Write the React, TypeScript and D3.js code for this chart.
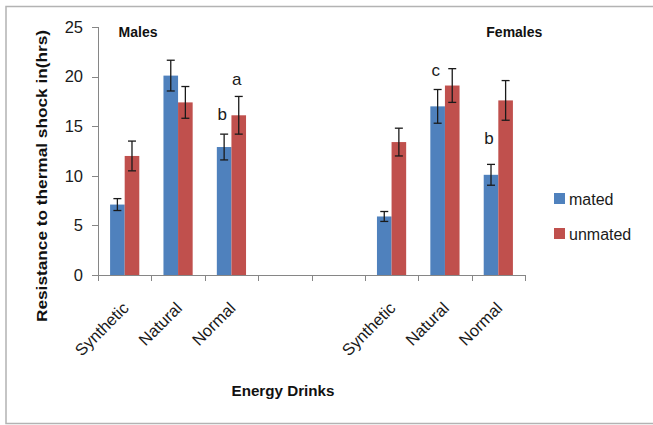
import React from "react";
import * as d3 from "d3";

const categories = ["Synthetic", "Natural", "Normal", "", "", "Synthetic", "Natural", "Normal"];
const mated: (number | null)[] = [7.1, 20.1, 12.9, null, null, 5.9, 17.0, 10.1];
const unmated: (number | null)[] = [12.0, 17.4, 16.1, null, null, 13.4, 19.1, 17.6];
const matedErr: (number | null)[] = [0.6, 1.55, 1.3, null, null, 0.5, 1.7, 1.05];
const unmatedErr: (number | null)[] = [1.5, 1.6, 1.9, null, null, 1.4, 1.7, 2.0];
const seriesNames = ["mated", "unmated"];
const seriesColors = ["#4F81BD", "#C0504D"];
const yTicks = [0, 5, 10, 15, 20, 25];
const groupLabels = [
  { text: "Males", index: 0 },
  { text: "Females", index: 7 },
];
// significance letters: category index, series index, baseline value
const letters = [
  { text: "b", index: 2, series: 0, value: 15.6 },
  { text: "a", index: 2, series: 1, value: 19.15 },
  { text: "c", index: 6, series: 0, value: 20.1 },
  { text: "b", index: 7, series: 0, value: 13.2 },
];

const W = 653;
const H = 425;
const plot = { left: 98, right: 525, top: 27, bottom: 275 };
const font = "'Liberation Sans', Arial, sans-serif";

export default function App() {
  const x = d3
    .scaleBand<number>()
    .domain(d3.range(categories.length))
    .range([plot.left, plot.right])
    .paddingInner(0)
    .paddingOuter(0);
  const y = d3.scaleLinear().domain([0, 25]).range([plot.bottom, plot.top]);
  const slot = x.bandwidth();
  const barW = 14.6;
  const inner = d3
    .scaleBand<number>()
    .domain([0, 1])
    .range([(slot - 2 * barW) / 2, (slot + 2 * barW) / 2]);

  const series = [mated, unmated];
  const errs = [matedErr, unmatedErr];

  return (
    <svg
      width={W}
      height={H}
      style={{ position: "absolute", left: 0, top: 0, background: "#fff" }}
      fontFamily={font}
    >
      <rect x={6} y={6.5} width={700} height={417} fill="#fff" stroke="#b3b3b3" strokeWidth={1.5} />

      {/* y axis */}
      <line x1={plot.left + 0.5} x2={plot.left + 0.5} y1={plot.top} y2={plot.bottom} stroke="#868686" />
      {yTicks.map((t) => (
        <g key={t}>
          <line x1={plot.left - 6} x2={plot.left} y1={Math.round(y(t)) + 0.5} y2={Math.round(y(t)) + 0.5} stroke="#868686" />
          <text x={83} y={y(t)} dy="0.35em" textAnchor="end" fontSize={16.5} fill="#1a1a1a">
            {t}
          </text>
        </g>
      ))}

      {/* x axis */}
      <line x1={plot.left} x2={plot.right} y1={plot.bottom + 0.5} y2={plot.bottom + 0.5} stroke="#868686" />
      {d3.range(categories.length + 1).map((i) => {
        const xx = Math.round(plot.left + i * slot) + 0.5;
        return <line key={i} x1={xx} x2={xx} y1={plot.bottom} y2={plot.bottom + 6} stroke="#868686" />;
      })}

      {/* bars */}
      {series.map((s, si) =>
        s.map((v, i) =>
          v == null ? null : (
            <rect
              key={`b${si}-${i}`}
              x={(x(i) as number) + (inner(si) as number)}
              y={y(v)}
              width={barW}
              height={y(0) - y(v)}
              fill={seriesColors[si]}
            />
          )
        )
      )}

      {/* error bars */}
      {series.map((s, si) =>
        s.map((v, i) => {
          const e = errs[si][i];
          if (v == null || e == null) return null;
          const cx = (x(i) as number) + (inner(si) as number) + barW / 2;
          return (
            <g key={`e${si}-${i}`} stroke="#1a1a1a" strokeWidth={1.3}>
              <line x1={cx} x2={cx} y1={y(v + e)} y2={y(v - e)} />
              <line x1={cx - 4} x2={cx + 4} y1={y(v + e)} y2={y(v + e)} />
              <line x1={cx - 4} x2={cx + 4} y1={y(v - e)} y2={y(v - e)} />
            </g>
          );
        })
      )}

      {/* category labels */}
      {categories.map((c, i) => {
        const cx = (x(i) as number) + slot / 2;
        return c ? (
          <text
            key={`c${i}`}
            transform={`translate(${cx + 1},${plot.bottom + 30}) rotate(-45)`}
            textAnchor="end"
            dy="0.35em"
            fontSize={16.5}
            fill="#1a1a1a"
          >
            {c}
          </text>
        ) : null;
      })}

      {/* group labels */}
      {groupLabels.map((g) => {
        const cx = (x(g.index) as number) + (g.index === 0 ? slot * 0.75 : slot * 0.8);
        return (
          <text key={g.text} x={cx} y={37} textAnchor="middle" fontSize={14} fontWeight="bold" fill="#111">
            {g.text}
          </text>
        );
      })}

      {/* letters */}
      {letters.map((l, k) => {
        const cx = (x(l.index) as number) + (inner(l.series) as number) + barW / 2 - 2;
        return (
          <text key={k} x={cx} y={y(l.value)} textAnchor="middle" fontSize={17} fill="#1a1a1a">
            {l.text}
          </text>
        );
      })}

      {/* legend */}
      {seriesNames.map((n, i) => (
        <g key={n} transform={`translate(554,${193 + i * 35})`}>
          <rect width={11} height={11} fill={seriesColors[i]} />
          <text x={15} y={11.5} fontSize={16} fill="#1a1a1a">
            {n}
          </text>
        </g>
      ))}

      {/* axis titles */}
      <text
        transform={`translate(47,176) rotate(-90)`}
        textAnchor="middle"
        fontSize={15}
        fontWeight="bold"
        fill="#111"
        textLength={292}
        lengthAdjust="spacingAndGlyphs"
      >
        Resistance to thermal shock in(hrs)
      </text>
      <text x={283} y={396} textAnchor="middle" fontSize={15} fontWeight="bold" fill="#111" textLength={103} lengthAdjust="spacingAndGlyphs">
        Energy Drinks
      </text>
    </svg>
  );
}
